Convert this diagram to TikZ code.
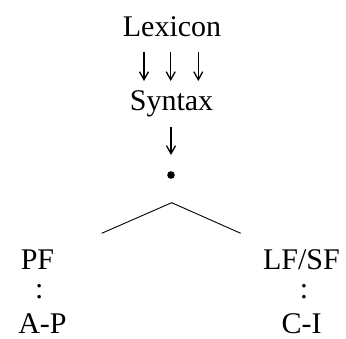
\documentclass[tikz,border=0pt]{standalone}
\usepackage{fontspec}
\setmainfont{Liberation Serif}
\usetikzlibrary{arrows.meta}
\begin{document}
\begin{tikzpicture}[x=1pt,y=1pt,
  lbl/.style={inner sep=0pt,anchor=base,font=\fontsize{30}{36}\selectfont},
  arr/.style={line width=1.2pt,-{Straight Barb[length=8pt,width=9pt,line width=1.3pt]}},
  branch/.style={line width=0.9pt}]
\useasboundingbox (0,0) rectangle (346,338);
\node[lbl] (lex) at (172,301.3) {Lexicon};
\node[lbl] (syn) at (171.5,227) {Syntax};
\node[lbl] (pf) at (37.5,68) {PF};
\node[lbl] (lfsf) at (301.5,68) {LF/SF};
\node[lbl] (c1) at (39.3,39) {:};
\node[lbl] (c2) at (304,39) {:};
\node[lbl] (ap) at (42.5,5) {A-P};
\node[lbl] (ci) at (301.5,5) {C-I};
\fill (171,163) circle (3.8) node (dot) {};
\coordinate (a1s) at (144,286.3); \coordinate (a1e) at (144,257);
\coordinate (a2s) at (170.7,286.3); \coordinate (a2e) at (170.7,257);
\coordinate (a3s) at (198.3,286.3); \coordinate (a3e) at (198.3,257);
\coordinate (a4s) at (171,211.3); \coordinate (a4e) at (171,183);
\draw[arr] (a1s) -- (a1e);
\draw[arr] (a2s) -- (a2e);
\draw[arr] (a3s) -- (a3e);
\draw[arr] (a4s) -- (a4e);
\coordinate (apex) at (171.7,135.3);
\coordinate (lend) at (101.7,104.7);
\coordinate (rend) at (240.7,104.7);
\draw[branch] (lend) -- (apex) -- (rend);
\end{tikzpicture}
\end{document}
